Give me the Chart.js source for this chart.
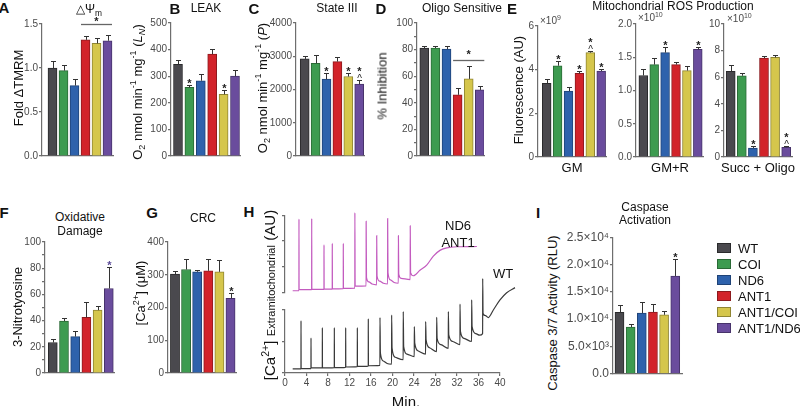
<!DOCTYPE html>
<html><head><meta charset="utf-8">
<script src="https://cdn.jsdelivr.net/npm/chart.js@4/dist/chart.umd.min.js"></script>
<style>
body{margin:0;background:#fff;width:800px;height:406px;overflow:hidden;position:relative;font-family:'Liberation Sans',Arial,sans-serif;color:#111;}
canvas{position:absolute;z-index:0;}
.t{position:absolute;white-space:nowrap;line-height:1;z-index:2;color:#111;}
.c{transform:translate(-50%,-50%);}
.r{transform:translate(-50%,-50%) rotate(-90deg);}
.L{font-weight:bold;font-size:15px;}
.ti{font-size:12px;}
.ax{font-size:13px;}
sub,sup{font-size:70%;line-height:0;}
.lg{position:absolute;width:14px;height:10px;box-sizing:border-box;border:1px solid #333;z-index:2;}
</style></head><body>
<script>
// ---------------- data ----------------
const groups = ['WT','COI','ND6','ANT1','ANT1/COI','ANT1/ND6'];
const groupColors = ['#4a494e','#3d9b50','#2e62ac','#d2232a','#d5c64c','#6a4c9d'];
const groupEdges  = ['#2a2a2c','#2a6a36','#1f4377','#8c1a1e','#8f8533','#47336a'];

const tmrmMean = [1.00, 0.97, 0.80, 1.32, 1.28, 1.31];
const tmrmErr  = [0.08, 0.06, 0.07, 0.04, 0.06, 0.06];
const tmrmTicks = ['0.0','0.5','1.0','1.5'];

const leakMean = [345, 258, 283, 383, 232, 300];
const leakErr  = [15, 8, 25, 20, 18, 25];
const leakMarks = ['', '*', '', '', '*', ''];

const state3Mean = [2920, 2790, 2310, 2840, 2390, 2160];
const state3Err  = [100, 250, 180, 130, 120, 130];
const state3Marks = ['', '', '*', '', '*', '*^'];

const oligoMean = [81.2, 81.2, 80.4, 46, 58, 49.7];
const oligoErr  = [1.2, 1.7, 2.5, 5, 9.3, 2.6];

const rosGmMean = [3.37, 4.18, 3.02, 3.83, 4.78, 3.94];
const rosGmErr  = [0.2, 0.2, 0.17, 0.12, 0.07, 0.09];
const rosGmMarks = ['', '*', '', '*', '*^', '*'];
const rosGmTicks = ['0','2','4','6'];

const rosGmrMean = [1.226, 1.39, 1.57, 1.39, 1.30, 1.62];
const rosGmrErr  = [0.1, 0.1, 0.09, 0.04, 0.07, 0.04];
const rosGmrMarks = ['', '', '*', '', '', '*'];
const rosGmrTicks = ['0.0','0.5','1.0','1.5','2.0'];

const rosSuccMean = [6.44, 6.11, 0.68, 7.44, 7.49, 0.73];
const rosSuccErr  = [0.5, 0.2, 0.12, 0.18, 0.15, 0.08];
const rosSuccMarks = ['', '', '*', '', '', '*^'];
const rosSuccTicks = ['0','2','4','6','8','10'];

const nitroMean = [23.3, 39.7, 27.8, 42.5, 48, 64.5];
const nitroErr  = [2.5, 2, 4.5, 12, 3.5, 16.5];
const nitroMarks = ['', '', '', '', '', '*'];

const crcMean = [302, 316, 309, 312, 309, 228];
const crcErr  = [10, 33, 7, 35, 35, 15];
const crcMarks = ['', '', '', '', '', '*'];

const caspMean = [11250, 8550, 11130, 11300, 10800, 17900];
const caspErr  = [1280, 480, 2100, 1450, 670, 3100];
const caspMarks = ['', '', '', '', '', '*'];
const caspTicks = ['0.0','5.0×10³','1.0×10⁴','1.5×10⁴','2.0×10⁴','2.5×10⁴'];

// Panel H traces (minutes, extramitochondrial Ca2+ AU)
const mutMin = [1.43,2.59,2.6,2.62,4.96,4.97,4.99,7.25,7.26,7.28,8.79,8.8,8.82,10.84,10.85,10.87,12.99,13.0,13.05,15.09,15.1,15.16,15.6,16.2,17.05,17.06,17.12,17.6,18.3,19.09,19.1,19.16,19.6,20.3,21.09,21.1,21.16,21.6,23.29,23.3,23.36,23.88,25.1,26.36,27.6,28.9,30.1,32.0,35.7];
const mutCa  = [0.08,0.08,2.85,0.12,0.12,2.87,0.13,0.13,1.85,0.14,0.14,1.91,0.15,0.16,1.91,0.17,0.18,3.1,0.26,0.27,2.76,0.6,0.42,0.34,0.31,2.21,0.66,0.45,0.37,0.34,2.87,0.78,0.5,0.4,0.37,2.21,0.72,0.56,0.51,2.59,0.78,0.66,0.87,1.07,1.42,1.65,1.74,1.78,1.79];
const wtMin = [1.43,2.97,2.98,3.0,4.83,4.84,4.86,6.94,6.95,6.97,9.17,9.18,9.2,11.28,11.29,11.31,13.45,13.46,13.48,15.49,15.5,15.52,17.66,17.67,17.75,18.3,19.0,19.83,19.84,19.92,20.5,21.99,22.0,22.08,22.7,24.05,24.06,24.14,24.8,26.16,26.17,26.25,26.9,28.21,28.22,28.3,29.0,30.38,30.39,30.47,31.2,32.55,32.56,32.64,33.3,34.72,34.73,34.81,35.5,36.2,36.77,36.78,36.85,37.3,37.83,38.76,40.0,41.24,42.79];
const wtCa  = [0.13,0.13,1.66,0.14,0.14,1.11,0.16,0.16,1.44,0.16,0.17,1.44,0.17,0.18,1.44,0.19,0.2,1.44,0.21,0.22,1.72,0.23,0.24,1.76,0.63,0.38,0.3,0.28,1.84,0.79,0.5,0.42,1.95,0.84,0.6,0.52,1.47,0.95,0.7,0.6,1.63,1.05,0.8,0.68,1.77,1.1,0.9,0.78,1.95,1.21,1.0,0.9,2.19,1.32,1.1,1.0,2.32,1.47,1.25,1.2,1.25,3.0,1.89,1.82,1.76,2.0,2.32,2.55,2.71];

// ---------------- helpers ----------------
const FF = "'Liberation Sans', Arial, sans-serif";
const AX = '#6e6e6e', TK = '#4a4a4a';
const PAD = 8;

function txt(html, x, y, cls, extra){
  const d = document.createElement('div');
  d.className = 't ' + (cls||'c');
  d.style.left = x + 'px'; d.style.top = y + 'px';
  if (extra) d.style.cssText += extra;
  d.innerHTML = html;
  document.body.appendChild(d);
}

function drawMark(ctx, m, x, capY, color){
  ctx.fillStyle = color || '#222';
  ctx.textAlign = 'center'; ctx.textBaseline = 'alphabetic';
  if (m === '*') {
    ctx.font = 'bold 11px ' + FF;
    ctx.fillText('*', x, capY - 5 + 6);
  } else if (m === '*^') {
    ctx.font = '10px ' + FF;
    ctx.fillText('^', x, capY - 4 + 5.5);
    ctx.font = 'bold 11px ' + FF;
    ctx.fillText('*', x, capY - 12 + 6);
  }
}

function barPanel(o){
  const YW = o.yw || 34;
  const cv = document.createElement('canvas');
  const w = YW + (o.right - o.axisX) + PAD;
  const h = (o.bottom - o.top) + 2*PAD;
  cv.width = w; cv.height = h;
  cv.style.left = (o.axisX - YW) + 'px';
  cv.style.top = (o.top - PAD) + 'px';
  document.body.appendChild(cv);
  const xmin = -(o.firstCenter - o.axisX)/o.spacing;
  const xmax = (o.right - o.firstCenter)/o.spacing;
  const errPlugin = {
    id: 'errbars',
    afterDatasetsDraw(chart){
      const {ctx, scales:{x, y}} = chart;
      ctx.save();
      ctx.strokeStyle = '#333'; ctx.lineWidth = 1;
      o.means.forEach((v, i) => {
        const px = Math.round(x.getPixelForValue(i)) + 0.5;
        const y0 = y.getPixelForValue(v), y1 = Math.round(y.getPixelForValue(v + o.errs[i])) + 0.5;
        ctx.beginPath(); ctx.moveTo(px, y0); ctx.lineTo(px, y1);
        ctx.moveTo(px - 2.5, y1); ctx.lineTo(px + 2.5, y1); ctx.stroke();
        if (o.marks && o.marks[i]) drawMark(ctx, o.marks[i], px, y1, o.markColor);
      });
      if (o.sig) {
        const s = o.sig;
        const yl = Math.round(y.getPixelForValue(s.value)) + 0.5;
        const xl = x.getPixelForValue(s.from) - o.barW/2, xr = x.getPixelForValue(s.to) + o.barW/2;
        ctx.strokeStyle = '#666'; ctx.lineWidth = 1.3;
        ctx.beginPath(); ctx.moveTo(xl, yl); ctx.lineTo(xr, yl); ctx.stroke();
        ctx.fillStyle = '#222'; ctx.font = 'bold 11px ' + FF; ctx.textAlign = 'center';
        ctx.fillText('*', (xl + xr)/2, yl - s.gap + 6);
      }
      ctx.restore();
    }
  };
  new Chart(cv, {
    type: 'bar',
    data: { datasets: [{
      data: o.means.map((v, i) => ({x: i, y: v})),
      backgroundColor: groupColors, borderColor: groupEdges,
      borderWidth: 1, barThickness: o.barW
    }]},
    options: {
      responsive: false, animation: false, events: [],
      layout: { padding: {top: PAD, right: PAD, bottom: PAD, left: 0} },
      plugins: { legend: {display: false}, tooltip: {enabled: false} },
      scales: {
        x: { type: 'linear', min: xmin, max: xmax, offset: false,
             ticks: {display: false}, grid: {display: false, offset: false},
             border: {color: AX, width: 1.2},
             afterFit: s => { s.height = 0; } },
        y: { min: 0, max: o.max,
             ticks: { stepSize: o.step, autoSkip: false, color: TK, padding: 1,
                      font: {size: o.tickSize || 10, family: FF}, callback: o.fmt },
             grid: { drawOnChartArea: false, tickLength: 3, color: AX, lineWidth: 1.2 },
             border: {color: AX, width: 1.2},
             afterFit: s => { s.width = YW; } }
      }
    },
    plugins: [errPlugin]
  });
}

function labelFrom(arr, step){ return (v) => { const i = Math.round(v/step); return arr[i] !== undefined ? arr[i] : ''; }; }

// ---------------- top row ----------------
barPanel({axisX:42, top:24, bottom:156, firstCenter:52.5, spacing:11, barW:9, right:113,
  max:1.5, step:0.5, fmt: labelFrom(tmrmTicks, 0.5), means:tmrmMean, errs:tmrmErr,
  sig:{from:3, to:5, value:1.5, gap:6}});
barPanel({axisX:171, top:23, bottom:156, firstCenter:178, spacing:11.4, barW:9, right:240,
  max:500, step:100, fmt: v => v, means:leakMean, errs:leakErr, marks:leakMarks});
barPanel({axisX:296, top:23, bottom:156, firstCenter:304.7, spacing:10.9, barW:9, right:364,
  max:4000, step:1000, fmt: v => v, means:state3Mean, errs:state3Err, marks:state3Marks});
barPanel({axisX:417, top:23, bottom:156, firstCenter:424.3, spacing:11.1, barW:9, right:484,
  max:100, step:10, fmt: v => (v % 20 === 0 ? v : ''), means:oligoMean, errs:oligoErr,
  sig:{from:3, to:5, value:72.4, gap:9}});
barPanel({axisX:538, top:26, bottom:157, firstCenter:546.7, spacing:10.9, barW:8.8, right:606,
  max:6, step:2, fmt: labelFrom(rosGmTicks, 2), means:rosGmMean, errs:rosGmErr, marks:rosGmMarks});
barPanel({axisX:636, top:24, bottom:157, firstCenter:643.3, spacing:10.9, barW:8.8, right:703,
  max:2, step:0.5, fmt: labelFrom(rosGmrTicks, 0.5), means:rosGmrMean, errs:rosGmrErr, marks:rosGmrMarks});
barPanel({axisX:724, top:24, bottom:157, firstCenter:730.7, spacing:11.1, barW:9, right:792,
  max:10, step:2, fmt: labelFrom(rosSuccTicks, 2), means:rosSuccMean, errs:rosSuccErr, marks:rosSuccMarks});

// ---------------- bottom row ----------------
barPanel({axisX:45, top:242, bottom:373, firstCenter:52.8, spacing:11.2, barW:9, right:114,
  max:100, step:10, fmt: v => (v % 20 === 0 ? v : ''), means:nitroMean, errs:nitroErr, marks:nitroMarks,
  markColor:'#5a4a98'});
barPanel({axisX:168, top:242, bottom:373, firstCenter:175, spacing:11.1, barW:9.2, right:236,
  max:400, step:100, fmt: v => v, means:crcMean, errs:crcErr, marks:crcMarks});
barPanel({axisX:613, top:237, bottom:374, firstCenter:619.5, spacing:11.15, barW:9, right:682, yw:52,
  tickSize:12, max:25000, step:5000, fmt: labelFrom(caspTicks, 5000), means:caspMean, errs:caspErr, marks:caspMarks});

// ---------------- panel H (line traces) ----------------
function tracePanel(o){
  const YW = 8;
  const cv = document.createElement('canvas');
  const w = YW + (o.right - o.axisX) + o.padR;
  const h = (o.bottom - o.top) + o.padT + o.xh + 4;
  cv.width = w; cv.height = h;
  cv.style.left = (o.axisX - YW) + 'px';
  cv.style.top = (o.top - o.padT) + 'px';
  document.body.appendChild(cv);
  new Chart(cv, {
    type: 'line',
    data: { datasets: [{ data: o.xs.map((t, i) => ({x: t, y: o.ys[i]})),
      borderColor: o.color, borderWidth: 1.2, pointRadius: 0, fill: false,
      cubicInterpolationMode: 'monotone', clip: false }]},
    options: {
      responsive: false, animation: false, events: [],
      layout: { padding: {top: o.padT, right: o.padR, bottom: 4, left: 0} },
      plugins: { legend: {display: false}, tooltip: {enabled: false} },
      scales: {
        x: { type: 'linear', display: o.showX,
             afterDataLimits: s => { s.min = 0; s.max = 40; },
             ticks: { stepSize: 4, autoSkip: false, color: TK, padding: 1, maxRotation: 0,
                      font: {size: 10, family: FF} },
             grid: { drawOnChartArea: false, tickLength: 3, color: AX, lineWidth: 1.2 },
             border: {color: AX, width: 1.2},
             afterFit: s => { s.height = o.xh; } },
        y: { min: 0, max: o.max,
             ticks: { stepSize: 1, callback: () => '' },
             grid: { drawOnChartArea: false, tickLength: 3, color: AX, lineWidth: 1.2 },
             border: {color: AX, width: 1.2},
             afterFit: s => { s.width = YW; } }
      }
    }
  });
}
tracePanel({axisX:285, right:500, top:213, bottom:299, padT:8, padR:8, xh:0, showX:false,
  max:3, xs:mutMin, ys:mutCa, color:'#c35bbf'});
tracePanel({axisX:285, right:500, top:310, bottom:373, padT:40, padR:22, xh:20, showX:true,
  max:2, xs:wtMin, ys:wtCa, color:'#3a3a3a'});

// ---------------- texts ----------------
[['A',4,7],['B',175,8],['C',254,8],['D',381,8],['E',512,8],['F',4,212],['G',152,212],['H',249,211],['I',538,212]]
  .forEach(([s,x,y]) => txt(s, x, y, 'c L'));

txt('&#9651;&Psi;<sub>m</sub>', 89, 9, 'c ti');
txt('LEAK', 206, 8, 'c ti');
txt('State III', 337, 8, 'c ti');
txt('Oligo Sensitive', 462, 8, 'c ti');
txt('Mitochondrial ROS Production', 673, 6, 'c ti');
txt('Oxidative', 80, 217, 'c ti');
txt('Damage', 80, 231, 'c ti');
txt('CRC', 203, 218, 'c ti');
txt('Caspase', 645, 207, 'c ti');
txt('Activation', 645, 220, 'c ti');

txt('GM', 572, 167, 'c ax');
txt('GM+R', 670, 167, 'c ax');
txt('Succ + Oligo', 758, 167, 'c ax');
txt('&times;10<sup>9</sup>', 540, 21, 't', 'transform:translate(0,-50%);font-size:10px;color:#4a4a4a;');
txt('&times;10<sup>10</sup>', 638, 18, 't', 'transform:translate(0,-50%);font-size:10px;color:#4a4a4a;');
txt('&times;10<sup>10</sup>', 727, 19, 't', 'transform:translate(0,-50%);font-size:10px;color:#4a4a4a;');

txt('Fold &Delta;TMRM', 18, 88, 'r ax');
txt('O<sub>2</sub> nmol min<sup>-1</sup> mg<sup>-1</sup> (<i>L<sub>N</sub></i>)', 137, 92, 'r ax');
txt('O<sub>2</sub> nmol min<sup>-1</sup> mg<sup>-1</sup> (<i>P</i>)', 262, 88, 'r ax');
txt('% Inhibition', 381.5, 86, 'r ax', 'font-weight:normal;');
txt('Fluorescence (AU)', 518, 90, 'r ax');
txt('3-Nitrotyosine', 17, 307, 'r ax');
txt('[Ca<sup>2+</sup>] (&mu;M)', 140, 293, 'r ax');
txt('Caspase 3/7 Activity (RLU)', 552, 313, 'r ax');
txt('<span style="font-size:15px">[Ca<sup>2+</sup>]</span> <span style="font-size:11px">Extramitochondrial</span> <span style="font-size:15px">(AU)</span>', 270, 295, 'r');

txt('ND6', 458, 225, 'c', 'font-size:13px;');
txt('ANT1', 458, 242, 'c', 'font-size:13px;');
txt('WT', 503, 273, 'c', 'font-size:13px;');
txt('Min.', 406, 401, 'c', 'font-size:15px;');

// legend
const legY = [248, 264, 280, 296, 312, 328];
groups.forEach((g, i) => {
  const b = document.createElement('div');
  b.className = 'lg';
  b.style.left = '717px'; b.style.top = (legY[i] - 5) + 'px';
  b.style.background = groupColors[i]; b.style.borderColor = groupEdges[i];
  document.body.appendChild(b);
  txt(g, 738, legY[i], 't', 'transform:translate(0,-50%);font-size:13px;');
});
</script>
</body></html>
